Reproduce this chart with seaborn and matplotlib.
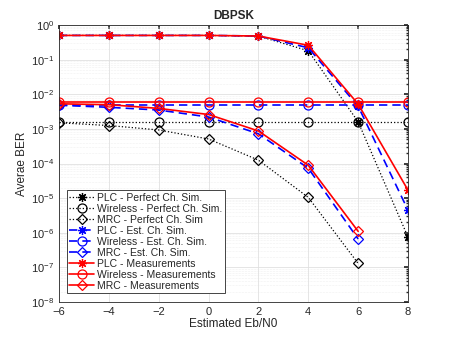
import numpy as np
import pandas as pd
import matplotlib
matplotlib.use("Agg")
import matplotlib.pyplot as plt
import seaborn as sns

# Eb/N0 values
ebn0 = [-6, -4, -2, 0, 2, 4, 6, 8]

# perfect channel simulation
plc_perfect = [0.5, 0.5, 0.5, 0.5, 0.48, 0.18, 1.6e-3, 7.5e-7]
wireless_perfect = [1.6e-3, 1.6e-3, 1.6e-3, 1.6e-3, 1.6e-3, 1.6e-3, 1.6e-3, 1.6e-3]
mrc_perfect = [1.5e-3, 1.25e-3, 9.3e-4, 5.1e-4, 1.25e-4, 1.05e-5, 1.3e-7]

# estimated channel simulation
plc_est = [0.5, 0.5, 0.5, 0.5, 0.48, 0.22, 4.5e-3, 4.5e-6]
wireless_est = [4.8e-3, 4.8e-3, 4.8e-3, 4.8e-3, 4.8e-3, 4.8e-3, 4.8e-3, 4.8e-3]
mrc_est = [4.8e-3, 4.2e-3, 3.5e-3, 2.2e-3, 7.2e-4, 7.3e-5, 6.6e-7]

# measurements
plc_meas = [0.5, 0.5, 0.5, 0.5, 0.48, 0.26, 5.2e-3, 1.7e-5]
wireless_meas = [5.8e-3, 5.8e-3, 5.8e-3, 5.8e-3, 5.8e-3, 5.8e-3, 5.8e-3, 5.8e-3]
mrc_meas = [5.3e-3, 5.0e-3, 3.9e-3, 2.6e-3, 8.7e-4, 8.9e-5, 1.1e-6]

labels = ["PLC - Perfect Ch. Sim.", "Wireless - Perfect Ch. Sim.", "MRC - Perfect Ch. Sim",
          "PLC - Est. Ch. Sim.", "Wireless - Est. Ch. Sim.", "MRC - Est. Ch. Sim.",
          "PLC - Measurements", "Wireless - Measurements", "MRC - Measurements"]

sns.set_theme(style="whitegrid")
plt.rcParams['font.family'] = ['Liberation Sans', 'DejaVu Sans']
plt.rcParams['mathtext.fontset'] = 'custom'
plt.rcParams['mathtext.rm'] = 'Liberation Sans'

fig = plt.figure(figsize=(4.52, 3.39), dpi=100)
ax = fig.add_axes([59/452, 1-302/339, 349/452, 277/339])

star = (8, 2, 0)
series = [
    (plc_perfect, "black", ":", star, 0.9),
    (wireless_perfect, "black", ":", "o", 0.9),
    (mrc_perfect, "black", ":", "D", 0.9),
    (plc_est, "#0000ff", (0, (5, 3)), star, 1.2),
    (wireless_est, "#0000ff", (0, (5, 3)), "o", 1.2),
    (mrc_est, "#0000ff", (0, (5, 3)), "D", 1.2),
    (plc_meas, "#ff0000", "-", star, 1.2),
    (wireless_meas, "#ff0000", "-", "o", 1.2),
    (mrc_meas, "#ff0000", "-", "D", 1.2),
]

for (vals, col, ls, mk, lw), lab in zip(series, labels):
    ms = 5 if mk == "D" else 6.5
    sns.lineplot(x=ebn0[:len(vals)], y=vals, ax=ax, color=col, linestyle=ls,
                 marker=mk, markersize=ms, markerfacecolor="none",
                 markeredgecolor=col, markeredgewidth=0.9, linewidth=lw,
                 label=lab)

ax.set_yscale("log")
ax.set_xlim(-6, 8)
ax.set_ylim(1e-8, 1)
ax.set_xticks(ebn0)
ax.set_yticks([10.0**k for k in range(-8, 1)])
ax.set_facecolor("white")
ax.grid(True, which="major", color="#e0e0e0", linewidth=0.6)
ax.grid(True, which="minor", color="#e3e3e3", linewidth=0.4, linestyle=":")
ax.minorticks_on()
ax.set_xticks([], minor=True)
for s in ax.spines.values():
    s.set_color("#262626")
    s.set_linewidth(0.6)
ax.tick_params(which="both", direction="in", top=True, right=True,
               labelsize=8, colors="#262626", length=3)
ax.tick_params(which="minor", length=1.5)

ax.set_title("DBPSK", fontsize=8.5, fontweight="bold", pad=4)
ax.set_xlabel("Estimated Eb/N0", fontsize=8.5, labelpad=1, color="#262626")
ax.set_ylabel("Averae BER", fontsize=8.5, labelpad=2, color="#262626")

leg = ax.legend(loc="lower left", fontsize=7.5, frameon=True, fancybox=False,
                edgecolor="#262626", framealpha=1, borderpad=0.2,
                labelspacing=0.1, handlelength=2.4, handletextpad=0.3,
                borderaxespad=0.6, bbox_to_anchor=(0.005, 0.01))
leg.get_frame().set_linewidth(0.6)

fig.savefig("out.png", dpi=100)
